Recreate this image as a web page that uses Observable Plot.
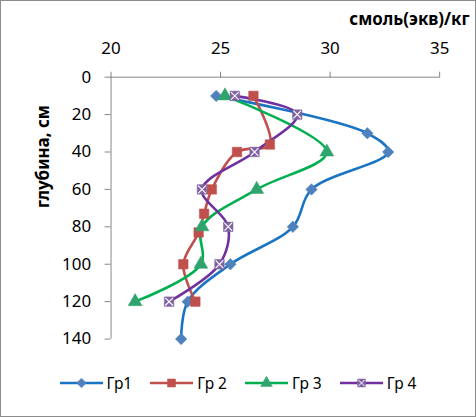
<!DOCTYPE html>
<html>
<head>
<meta charset="utf-8">
<script src="https://cdn.jsdelivr.net/npm/d3@7"></script>
<script src="https://cdn.jsdelivr.net/npm/@observablehq/plot@0.6"></script>
<style>
  html, body { margin: 0; padding: 0; background: #fff; }
  #wrap { width: 476px; height: 417px; box-sizing: border-box; border: 1px solid #8c8c8c; position: relative; overflow: hidden; font-family: "Noto Sans", sans-serif; }
  #chart svg { display: block; position: absolute; left: -1px; top: -1px; }
  #legend { position: absolute; left: 0; top: 357px; width: 474px; height: 50px; display: flex; justify-content: center; align-items: center; gap: 18px; font-size: 15.5px; color: #000; }
  .item { display: flex; align-items: center; gap: 4px; }
</style>
</head>
<body>
<div id="wrap">
  <div id="chart"></div>
  <div id="legend"></div>
</div>
<script>
// ---- data ----
const groups = ["Гр1", "Гр 2", "Гр 3", "Гр 4"];
const gr1Depth = [10, 30, 40, 60, 80, 100, 120, 140];
const gr1Value = [24.8, 31.7, 32.65, 29.15, 28.3, 25.45, 23.5, 23.2];
const gr2Depth = [10, 36, 40, 60, 73, 83, 100, 120];
const gr2Value = [26.5, 27.25, 25.75, 24.6, 24.25, 24.0, 23.3, 23.85];
const gr3Depth = [10, 40, 60, 80, 100, 120];
const gr3Value = [25.2, 29.85, 26.65, 24.15, 24.1, 21.1];
const gr4Depth = [10, 20, 40, 60, 80, 100, 120];
const gr4Value = [25.65, 28.5, 26.55, 24.15, 25.35, 24.95, 22.65];
const xTicks = [20, 25, 30, 35];
const yTicks = [0, 20, 40, 60, 80, 100, 120, 140];
const xTitle = "смоль(экв)/кг";
const yTitle = "глубина, см";

const series = [
  {name: groups[0], depth: gr1Depth, value: gr1Value, line: "#1a74c4", fill: "#4f81bd", symbol: "diamond2", r: 5.2},
  {name: groups[1], depth: gr2Depth, value: gr2Value, line: "#c0504d", fill: "#c0504d", symbol: "square", r: 5.4},
  {name: groups[2], depth: gr3Depth, value: gr3Value, line: "#00b050", fill: "#30a46e", symbol: "triangle", r: 5.2},
  {name: groups[3], depth: gr4Depth, value: gr4Value, line: "#7030a0", fill: "#8064a2", symbol: "square", r: 5.4, cross: true}
];
const tables = series.map(s => s.depth.map((d, i) => ({g: s.name, d, v: s.value[i]})));

const marks = [
  Plot.axisX({anchor: "top", ticks: xTicks, tickSize: 6, tickPadding: 17, stroke: "#868686", fill: "#000", label: null}),
  Plot.axisY({anchor: "left", ticks: yTicks, tickSize: 6, tickPadding: 14, stroke: "#868686", fill: "#000", label: null}),
  Plot.ruleX([20], {stroke: "#868686", strokeWidth: 1}),
  Plot.ruleY([0], {stroke: "#868686", strokeWidth: 1}),
  Plot.text([xTitle], {frameAnchor: "top-right", dx: 30, dy: -64, textAnchor: "end", fontWeight: "bold", fontSize: 17}),
  Plot.text([yTitle], {frameAnchor: "left", dx: -68, rotate: -90, fontWeight: "bold", fontSize: 17})
];
series.forEach((s, k) => {
  marks.push(Plot.line(tables[k], {x: "v", y: "d", stroke: s.line, strokeWidth: 2.6, curve: "catmull-rom"}));
});
series.forEach((s, k) => {
  marks.push(Plot.dot(tables[k], {x: "v", y: "d", symbol: s.symbol, fill: s.fill, stroke: s.fill, strokeWidth: 0.5, r: s.r}));
  if (s.cross) marks.push(Plot.dot(tables[k], {x: "v", y: "d", symbol: "times", stroke: "#ffffff", strokeWidth: 1.1, r: 3.6}));
});

const plot = Plot.plot({
  width: 476, height: 360,
  marginTop: 77, marginLeft: 111, marginRight: 35, marginBottom: 20,
  style: {fontFamily: "Noto Sans", fontSize: "17px", color: "#000", background: "transparent", overflow: "visible"},
  x: {domain: [20, 35], axis: null},
  y: {domain: [0, 140], reverse: true, axis: null},
  marks
});
document.getElementById("chart").appendChild(plot);

// legend
const legend = document.getElementById("legend");
const symPath = (sym, size) => d3.symbol(sym === "diamond2" ? d3.symbolDiamond2 : sym === "triangle" ? d3.symbolTriangle : d3.symbolSquare, size)();
series.forEach(s => {
  const item = document.createElement("div");
  item.className = "item";
  const size = Math.PI * s.r * s.r * 0.7;
  let svg = `<svg width="43" height="14" viewBox="-21.5 -7 43 14"><line x1="-21.5" x2="21.5" y1="0" y2="0" stroke="${s.line}" stroke-width="2.6"/>` +
    `<path d="${symPath(s.symbol, size)}" fill="${s.fill}" stroke="${s.fill}" stroke-width="0.5"/>`;
  if (s.cross) svg += `<path d="${d3.symbol(d3.symbolTimes, Math.PI * 3.2 * 3.2)()}" stroke="#fff" stroke-width="1" fill="none"/>`;
  svg += `</svg>`;
  item.innerHTML = svg + `<span>${s.name}</span>`;
  legend.appendChild(item);
});
</script>
</body>
</html>
